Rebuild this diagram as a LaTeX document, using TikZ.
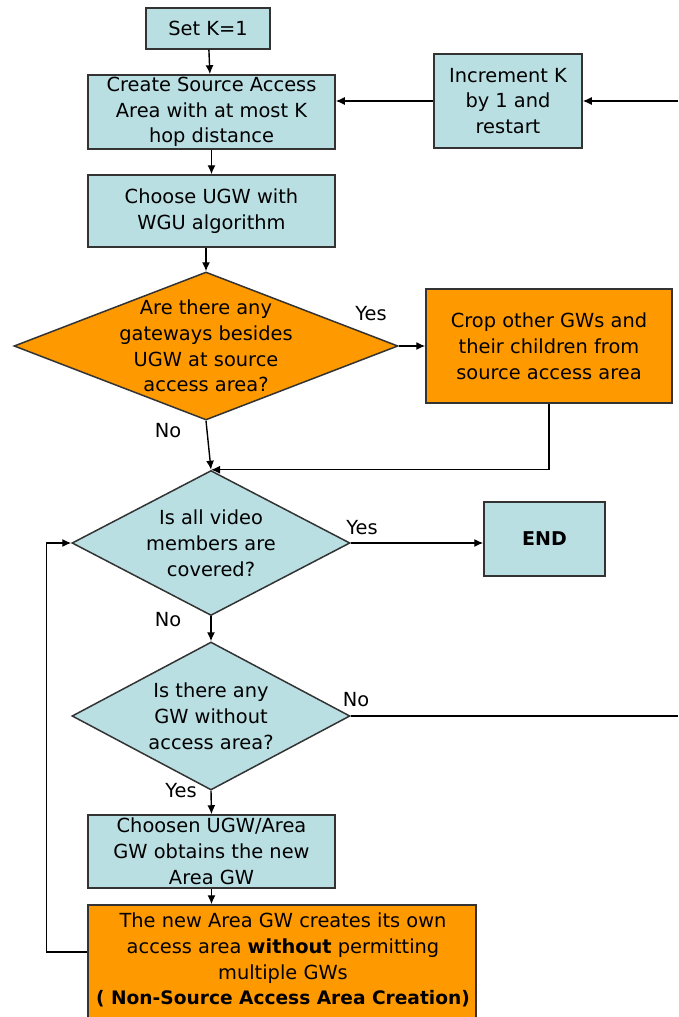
\documentclass[tikz,border=0pt]{standalone}
\usepackage{fontspec}
\setmainfont{DejaVu Sans}
\usetikzlibrary{shapes.geometric,arrows.meta}
\definecolor{boxblue}{HTML}{B9DFE3}
\definecolor{boxorange}{HTML}{FF9900}
\definecolor{edgegray}{HTML}{333333}
\begin{document}
\begin{tikzpicture}[x=1pt,y=-1pt,
  font=\fontsize{19.4}{25.8}\selectfont,
  boxbase/.style={draw=edgegray, line width=1.5pt, inner sep=0pt, align=center},
  bluebox/.style={boxbase, fill=boxblue},
  orangebox/.style={boxbase, fill=boxorange},
  bluedia/.style={boxbase, diamond, fill=boxblue},
  orangedia/.style={boxbase, diamond, fill=boxorange},
  txt/.style={align=center, inner sep=0pt},
  lbl/.style={inner sep=0pt},
  arr/.style={line width=1.4pt, -{Latex[length=9pt,width=8pt]}},
  ln/.style={line width=1.4pt}
]
\useasboundingbox (0,0) rectangle (678,1017);
\clip (0,0) rectangle (678,1017);

\node[bluebox, minimum width=124pt, minimum height=41pt] (setk) at (208,28.5) {Set K=1};
\node[bluebox, minimum width=247pt, minimum height=74pt] (create) at (211.5,112) {Create Source Access\\Area with at most K\\hop distance};
\node[bluebox, minimum width=247pt, minimum height=72pt] (choose) at (211.5,211) {Choose UGW with\\WGU algorithm};
\node[bluebox, minimum width=148pt, minimum height=94pt] (inc) at (508,101) {Increment K\\by 1 and\\restart};

\node[orangedia, minimum width=384pt, minimum height=148pt] (d1) at (206,346) {};
\node[txt] (d1t) at (d1) {Are there any\\gateways besides\\UGW at source\\access area?};
\node[orangebox, minimum width=246pt, minimum height=114pt] (crop) at (549,346) {Crop other GWs and\\their children from\\source access area};

\node[bluedia, minimum width=278pt, minimum height=145pt] (d2) at (211,543) {};
\node[txt] (d2t) at (d2) {Is all video\\members are\\covered?};
\node[bluebox, minimum width=121pt, minimum height=74pt, font=\fontsize{19}{25.8}\selectfont\bfseries] (endb) at (544.5,539) {END};

\node[bluedia, minimum width=278pt, minimum height=148pt] (d3) at (211,716) {};
\node[txt] (d3t) at (d3) {Is there any\\GW without\\access area?};

\node[bluebox, minimum width=247pt, minimum height=73pt] (chosen) at (211.5,851.5) {Choosen UGW/Area\\GW obtains the new\\Area GW};
\node[orangebox, minimum width=388pt, minimum height=140pt] (big) at (282,975) {};
\node[txt] (bigt) at (283,960) {The new Area GW creates its own\\access area \textbf{without} permitting\\multiple GWs\\{\fontsize{18.6}{25.8}\selectfont\textbf{( Non-Source Access Area Creation)}}};

\coordinate (rin) at (678,101);
\coordinate (rout) at (678,716);

\draw[arr] (setk) -- (create);
\draw[arr] (create) -- (choose);
\draw[arr] (d1.north |- choose.south) -- (d1.north);
\draw[arr] (rin) -- (inc.east);
\draw[arr] (inc.west) -- (inc.west -| create.east);
\draw[arr] (d1.east) -- (crop.west);
\draw[arr] (d1.south) -- (d2.north);
\draw[arr] (crop.south) |- (d2.north);
\draw[arr] (d2.east) -- (d2.east -| endb.west);
\draw[arr] (d2.south) -- (d3.north);
\draw[ln] (d3.east) -- (rout);
\draw[arr] (d3.south) -- (chosen.north);
\draw[arr] (chosen.south) -- (chosen.south |- big.north);
\draw[arr] ([yshift=23pt]big.west) -- ++(-41,0) |- (d2.west);

\node[lbl] (yes1) at (371,314) {Yes};
\node[lbl] (no1) at (168,431) {No};
\node[lbl] (yes2) at (362,528) {Yes};
\node[lbl] (no2) at (168,620) {No};
\node[lbl] (no3) at (356,700) {No};
\node[lbl] (yes3) at (181,791) {Yes};
\end{tikzpicture}
\end{document}
